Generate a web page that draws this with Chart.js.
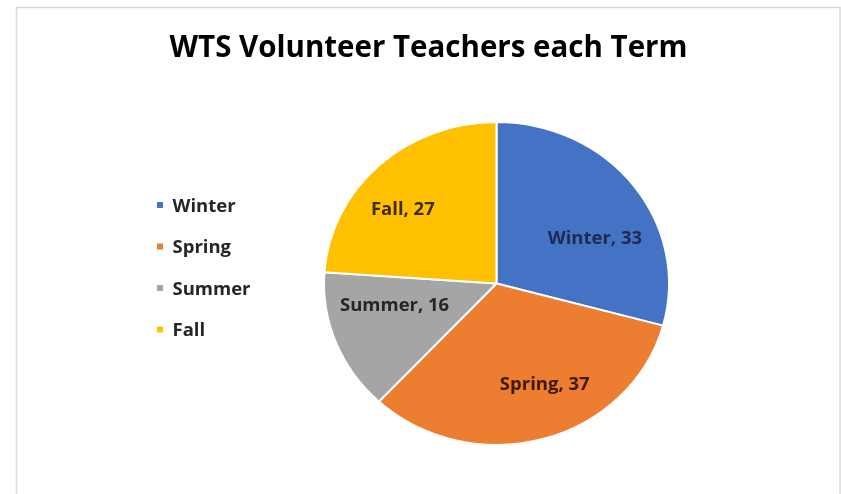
<!DOCTYPE html>
<html>
<head>
<meta charset="utf-8">
<script src="https://cdn.jsdelivr.net/npm/chart.js@4/dist/chart.umd.min.js"></script>
<style>
html,body{margin:0;padding:0;background:#fff;}
canvas{display:block;}
</style>
</head>
<body>
<canvas id="c" width="841" height="494"></canvas>
<script>
// ---- data ----
const titleText = "WTS Volunteer Teachers each Term";
const categories = ["Winter", "Spring", "Summer", "Fall"];
const values = [33, 37, 16, 27];
const sliceColors = ["#4472C4", "#ED7D31", "#A5A5A5", "#FFC000"];
const labelColors = ["#1F2B4D", "#3D1A06", "#262626", "#3E2C00"];

// ---- styling / layout (not data) ----
const FONT = "'Open Sans', 'DejaVu Sans', sans-serif";
const yScale = 321 / 343;              // the reference pie is slightly squashed vertically
const labelRadiusFrac = 0.66;
const labelNudge = [[8, 19], [17, -3], [4, -18], [-16, 3]];

const framePlugin = {
  id: 'frame',
  beforeDraw(chart) {
    const ctx = chart.ctx;
    ctx.save();
    ctx.fillStyle = '#ffffff';
    ctx.fillRect(0, 0, chart.width, chart.height);
    ctx.strokeStyle = '#D9D9D9';
    ctx.lineWidth = 1.5;
    ctx.beginPath();
    ctx.moveTo(16.5, chart.height);
    ctx.lineTo(16.5, 7.5);
    ctx.lineTo(840, 7.5);
    ctx.lineTo(840, chart.height);
    ctx.stroke();
    // title
    ctx.fillStyle = '#000000';
    ctx.font = "bold 29.5px " + FONT;
    ctx.textAlign = 'center';
    ctx.textBaseline = 'alphabetic';
    ctx.fillText(titleText, 428.5, 57);
    // legend
    ctx.font = "bold 18.5px " + FONT;
    ctx.textAlign = 'left';
    categories.forEach((c, i) => {
      const yc = 205 + i * 41.5;
      ctx.fillStyle = sliceColors[i];
      ctx.fillRect(157, yc - 3, 6, 6);
      ctx.fillStyle = '#262626';
      ctx.fillText(c, 172.5, yc + 6.6);
    });
    ctx.restore();
  }
};

const squashPlugin = {
  id: 'squash',
  beforeDatasetsDraw(chart) {
    const a = chart.chartArea;
    const cy = (a.top + a.bottom) / 2;
    const ctx = chart.ctx;
    ctx.save();
    ctx.translate(0, cy);
    ctx.scale(1, yScale);
    ctx.translate(0, -cy);
  },
  afterDatasetsDraw(chart) {
    chart.ctx.restore();
    // data labels
    const ctx = chart.ctx;
    const meta = chart.getDatasetMeta(0);
    ctx.save();
    ctx.font = "bold 18.5px " + FONT;
    ctx.textAlign = 'center';
    ctx.textBaseline = 'alphabetic';
    meta.data.forEach((arc, i) => {
      const p = arc.getProps(['x', 'y', 'startAngle', 'endAngle', 'outerRadius'], true);
      const mid = (p.startAngle + p.endAngle) / 2;
      const r = p.outerRadius * labelRadiusFrac;
      const x = p.x + Math.cos(mid) * r + labelNudge[i][0];
      const y = p.y + Math.sin(mid) * r * yScale + labelNudge[i][1];
      ctx.fillStyle = labelColors[i];
      ctx.fillText(categories[i] + ", " + values[i], x, y + 6.6);
    });
    ctx.restore();
  }
};

new Chart(document.getElementById('c'), {
  type: 'pie',
  data: {
    labels: categories,
    datasets: [{
      data: values,
      backgroundColor: sliceColors,
      borderColor: '#ffffff',
      borderWidth: 2,
      hoverOffset: 0
    }]
  },
  options: {
    responsive: false,
    animation: false,
    events: [],
    layout: { padding: { left: 323, right: 171, top: 110, bottom: 37 } },
    plugins: {
      legend: { display: false },
      title: { display: false },
      tooltip: { enabled: false }
    }
  },
  plugins: [framePlugin, squashPlugin]
});
</script>
</body>
</html>
